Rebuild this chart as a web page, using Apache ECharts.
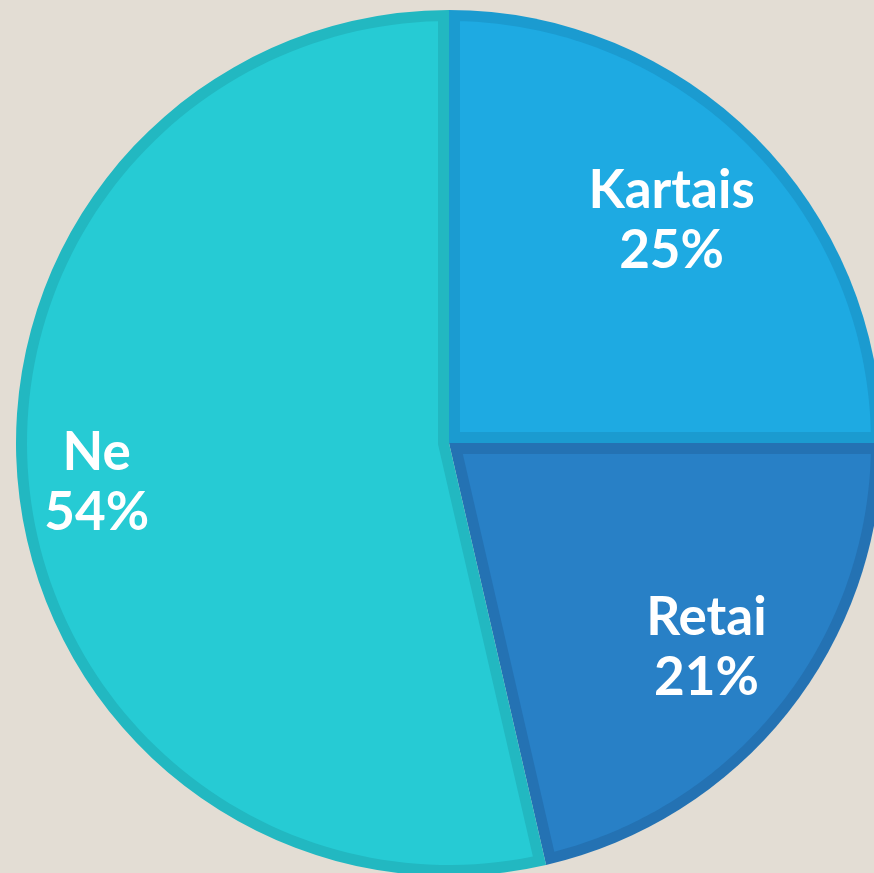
<!DOCTYPE html>
<html>
<head>
<meta charset="utf-8">
<script src="https://cdn.jsdelivr.net/npm/echarts@6/dist/echarts.min.js"></script>
<style>
  html, body { margin: 0; padding: 0; background: #e3ddd4; }
  #chart { width: 874px; height: 873px; }
</style>
</head>
<body>
<div id="chart"></div>
<script>
// slices, clockwise from 12 o'clock (labels show the rounded percent)
const names = ['Kartais', 'Retai', 'Ne']
const values = [25, 21.4, 53.6]
const fillColors = ['#1eaae2', '#2880c6', '#26cbd4']
const edgeColors = ['#1b9bd0', '#2472b3', '#22b8c1']
const labelRatio = [0.727, 0.76, 0.819]

const cx = 449
const cy = 443
const R = 433
const edge = 11
const total = values.reduce((a, b) => a + b, 0)

function sliceAngles (i) {
  let before = 0
  for (let k = 0; k < i; k++) before += values[k]
  const a0 = before / total * Math.PI * 2
  return [a0, a0 + values[i] / total * Math.PI * 2]
}

function pt (r, a) {
  return [cx + r * Math.sin(a), cy - r * Math.cos(a)]
}

let myChart = echarts.init(document.getElementById('chart'))
myChart.setOption({
  backgroundColor: '#e3ddd4',
  animation: false,
  series: [
    {
      // outer darker rim of each slice
      type: 'pie',
      z: 1,
      silent: true,
      center: [cx, cy],
      radius: R,
      startAngle: 90,
      clockwise: true,
      label: { show: false },
      labelLine: { show: false },
      emphasis: { disabled: true },
      data: names.map((n, i) => ({ name: n, value: values[i], itemStyle: { color: edgeColors[i] } }))
    },
    {
      // lighter inner part, inset by the rim width
      type: 'custom',
      z: 2,
      silent: true,
      coordinateSystem: 'none',
      data: values,
      renderItem (params) {
        const i = params.dataIndex
        const [a0, a1] = sliceAngles(i)
        const h = (a1 - a0) / 2
        const mid = a0 + h
        const d = edge / Math.sin(h)
        const points = [pt(d, mid)]
        const rin = R - edge
        const eps = Math.asin(edge / rin)
        const n = 120
        for (let k = 0; k <= n; k++) {
          const a = a0 + eps + (a1 - a0 - 2 * eps) * k / n
          points.push(pt(rin, a))
        }
        return { type: 'polygon', shape: { points: points }, style: { fill: fillColors[i] } }
      }
    },
    {
      // labels only
      type: 'pie',
      z: 3,
      silent: true,
      center: [cx, cy],
      radius: R,
      startAngle: 90,
      clockwise: true,
      itemStyle: { color: 'transparent' },
      emphasis: { disabled: true },
      labelLine: { show: false },
      label: {
        show: true,
        position: 'inside',
        color: '#ffffff',
        fontFamily: 'Lato',
        fontWeight: 'bold',
        fontSize: 53,
        lineHeight: 60,
        formatter: p => p.name + '\n' + Math.round(p.value) + '%'
      },
      labelLayout (params) {
        const i = params.dataIndex
        const [a0, a1] = sliceAngles(i)
        const p = pt(R * labelRatio[i], (a0 + a1) / 2)
        return { x: p[0], y: p[1] }
      },
      data: names.map((n, i) => ({ name: n, value: values[i] }))
    }
  ]
})
</script>
</body>
</html>
